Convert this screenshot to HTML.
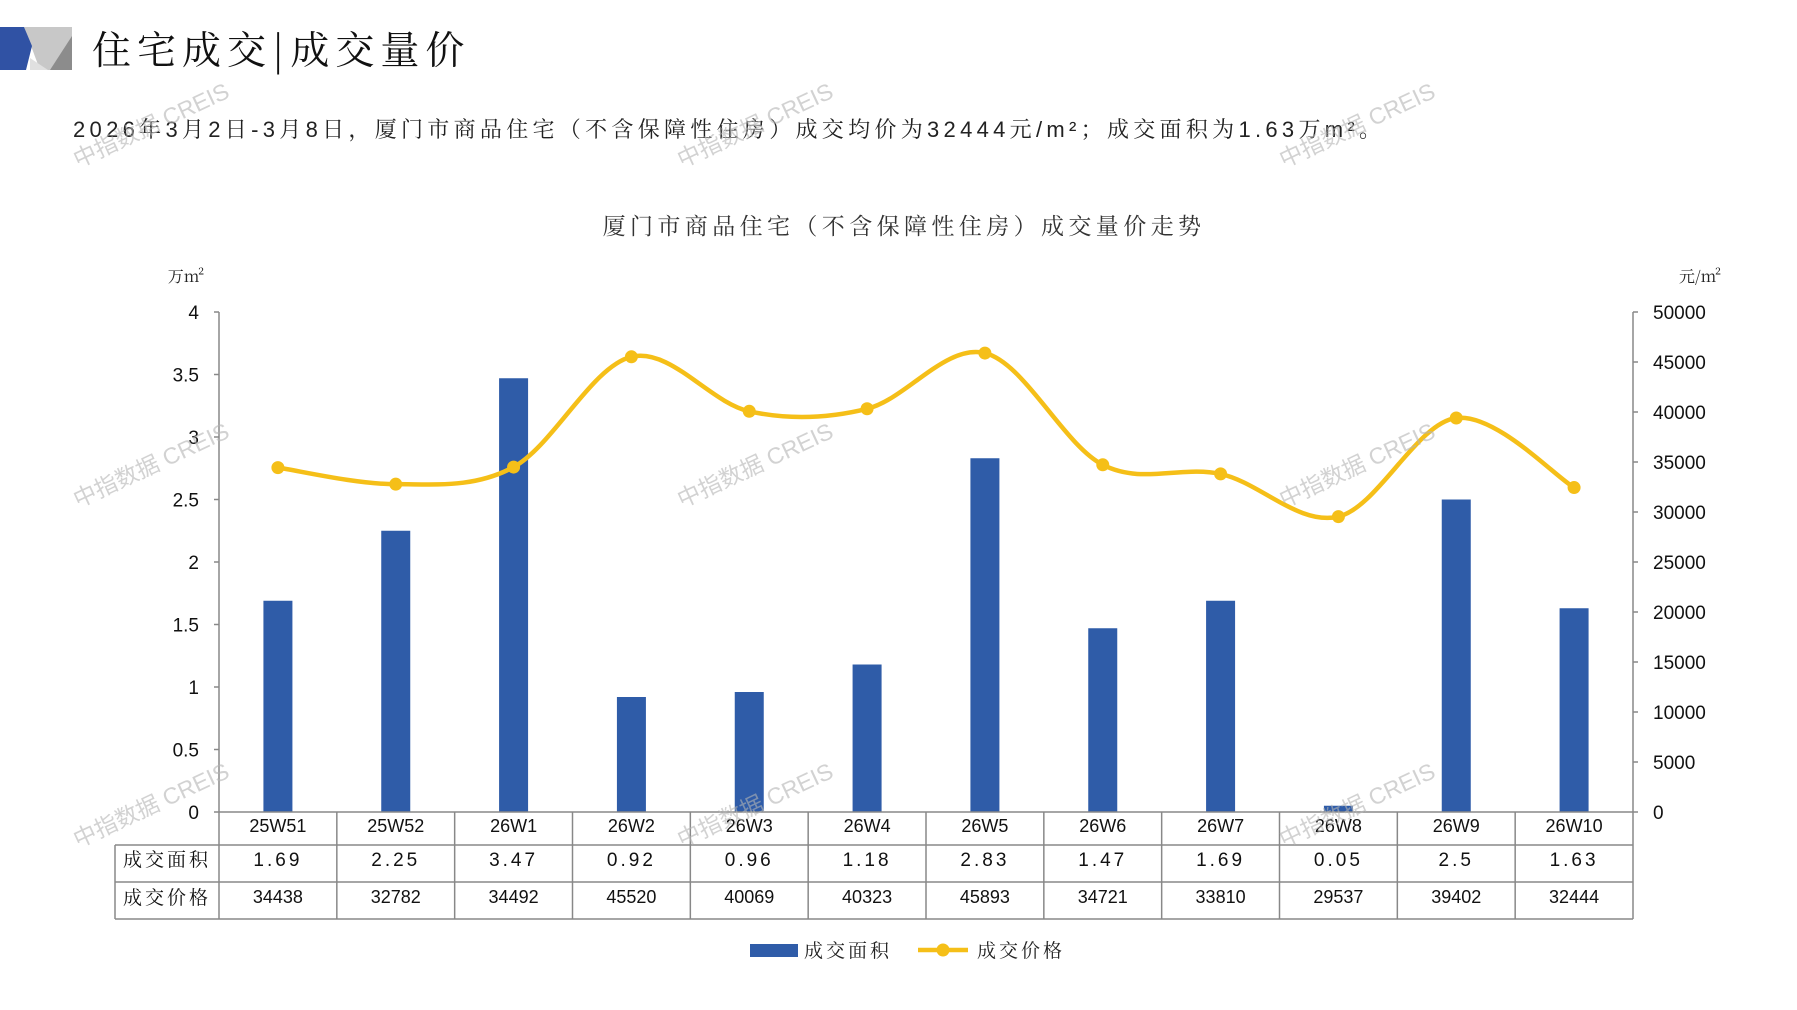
<!DOCTYPE html>
<html><head><meta charset="utf-8"><style>
html,body{margin:0;padding:0;background:#fff;}
body{width:1797px;height:1010px;overflow:hidden;position:relative;font-family:"Liberation Sans","Noto Serif CJK SC",serif;}
</style></head><body>
<svg id="s" width="1797" height="1010" xmlns="http://www.w3.org/2000/svg" style="position:absolute;left:0;top:0">
<polygon points="24,27 72,27 72,70 40,70" fill="#c8c8c8"/>
<polygon points="30,58 48,70 30,70" fill="#e0e0e0"/>
<polygon points="72,36 72,70 50,70" fill="#8c8c8c"/>
<polygon points="0,27 24,27 32,46 26,70 0,70" fill="#3052a4"/>
<text x="92" y="64" font-size="39" letter-spacing="6" font-family="Noto Serif CJK SC,serif" fill="#111">住宅成交|成交量价</text>
<text x="73" y="137" font-size="22" letter-spacing="4.3" font-family="Liberation Sans,Noto Serif CJK SC,serif" fill="#222">2026年3月2日-3月8日，厦门市商品住宅（不含保障性住房）成交均价为32444元/m²；成交面积为1.63万m²。</text>
<text x="904" y="234" font-size="23" letter-spacing="4.4" text-anchor="middle" font-family="Noto Serif CJK SC,serif" fill="#333">厦门市商品住宅（不含保障性住房）成交量价走势</text>
<text x="186" y="282" font-size="16" text-anchor="middle" font-family="Noto Serif CJK SC,serif" fill="#222">万m²</text>
<text x="1700" y="282" font-size="16" text-anchor="middle" font-family="Noto Serif CJK SC,serif" fill="#222">元/m²</text>
<g id="g"></g>
</svg>
<script>
var ns="http://www.w3.org/2000/svg",g=document.getElementById('g');
function el(t,a,txt){var e=document.createElementNS(ns,t);for(var k in a)e.setAttribute(k,a[k]);if(txt!=null)e.textContent=txt;g.appendChild(e);return e;}
var X0=219,X1=1633,Y0=812,Y1=312,n=12,cw=(X1-X0)/n;
var cats=["25W51","25W52","26W1","26W2","26W3","26W4","26W5","26W6","26W7","26W8","26W9","26W10"];
var area=[1.69,2.25,3.47,0.92,0.96,1.18,2.83,1.47,1.69,0.05,2.5,1.63];
var price=[34438,32782,34492,45520,40069,40323,45893,34721,33810,29537,39402,32444];
var H=Y0-Y1;
el('line',{x1:X0,y1:Y1,x2:X0,y2:Y0,stroke:'#888','stroke-width':1.5});
el('line',{x1:X1,y1:Y1,x2:X1,y2:Y0,stroke:'#888','stroke-width':1.5});
for(var i=0;i<=8;i++){var y=Y0-H*i/8;
 el('line',{x1:X0-5,y1:y,x2:X0,y2:y,stroke:'#888','stroke-width':1.5});
 el('text',{x:199,y:y+7,'font-size':19,'text-anchor':'end',fill:'#111'},String(i*0.5));
}
for(var i=0;i<=10;i++){var y=Y0-H*i/10;
 el('line',{x1:X1,y1:y,x2:X1+5,y2:y,stroke:'#888','stroke-width':1.5});
 el('text',{x:1653,y:y+7,'font-size':19,fill:'#111'},String(i*5000));
}
for(var i=0;i<n;i++){var cx=X0+cw*(i+.5),h=area[i]/4*H;
 el('rect',{x:cx-14.5,y:Y0-h,width:29,height:h,fill:'#2f5ca8'});}
var P=price.map(function(v,i){return [X0+cw*(i+.5),Y0-v/50000*H];});
var d='M'+P[0][0]+','+P[0][1];
for(var i=0;i<n-1;i++){var p0=P[Math.max(i-1,0)],p1=P[i],p2=P[i+1],p3=P[Math.min(i+2,n-1)],t=6;
 d+=' C'+(p1[0]+(p2[0]-p0[0])/t)+','+(p1[1]+(p2[1]-p0[1])/t)+' '+(p2[0]-(p3[0]-p1[0])/t)+','+(p2[1]-(p3[1]-p1[1])/t)+' '+p2[0]+','+p2[1];}
el('path',{d:d,fill:'none',stroke:'#f5bf18','stroke-width':4.5});
P.forEach(function(p){el('circle',{cx:p[0],cy:p[1],r:6.5,fill:'#f5bf18'});});
var L=115,R1=Y0,R2=845,R3=882,R4=919,ln={stroke:'#888','stroke-width':1.5};
el('line',Object.assign({x1:X0,y1:R1,x2:X1,y2:R1},ln));
el('line',Object.assign({x1:L,y1:R2,x2:X1,y2:R2},ln));
el('line',Object.assign({x1:L,y1:R3,x2:X1,y2:R3},ln));
el('line',Object.assign({x1:L,y1:R4,x2:X1,y2:R4},ln));
el('line',Object.assign({x1:L,y1:R2,x2:L,y2:R4},ln));
for(var i=0;i<=n;i++){var x=X0+cw*i;el('line',Object.assign({x1:x,y1:R1,x2:x,y2:R4},ln));}
el('text',{x:(L+X0)/2,y:866,'font-size':19,'letter-spacing':3,'text-anchor':'middle','font-family':'Noto Serif CJK SC,serif',fill:'#111'},'成交面积');
el('text',{x:(L+X0)/2,y:904,'font-size':19,'letter-spacing':3,'text-anchor':'middle','font-family':'Noto Serif CJK SC,serif',fill:'#111'},'成交价格');
for(var i=0;i<n;i++){var cx=X0+cw*(i+.5);
 el('text',{x:cx,y:832,'font-size':18,'text-anchor':'middle',fill:'#111'},cats[i]);
 el('text',{x:cx,y:866,'font-size':19,'text-anchor':'middle',fill:'#111','letter-spacing':'3'},String(area[i]));
 el('text',{x:cx,y:903,'font-size':18,'text-anchor':'middle',fill:'#111'},String(price[i]));}
el('rect',{x:750,y:944,width:48,height:13,fill:'#2f5ca8'});
el('text',{x:804,y:957,'font-size':19,'letter-spacing':3,'font-family':'Noto Serif CJK SC,serif',fill:'#222'},'成交面积');
el('line',{x1:918,y1:950,x2:968,y2:950,stroke:'#f5bf18','stroke-width':4.5});
el('circle',{cx:943,cy:950,r:6.5,fill:'#f5bf18'});
el('text',{x:977,y:957,'font-size':19,'letter-spacing':3,'font-family':'Noto Serif CJK SC,serif',fill:'#222'},'成交价格');
[[78,168],[682,168],[1284,168],[78,508],[682,508],[1284,508],[78,848],[682,848],[1284,848]].forEach(function(p){
 el('text',{x:p[0],y:p[1],'font-size':23,fill:'#b4b4b4','fill-opacity':0.6,transform:'rotate(-25 '+p[0]+' '+p[1]+')','font-family':'Liberation Sans,Noto Sans CJK SC,sans-serif'},'中指数据 CREIS');});
</script>
</body></html>
